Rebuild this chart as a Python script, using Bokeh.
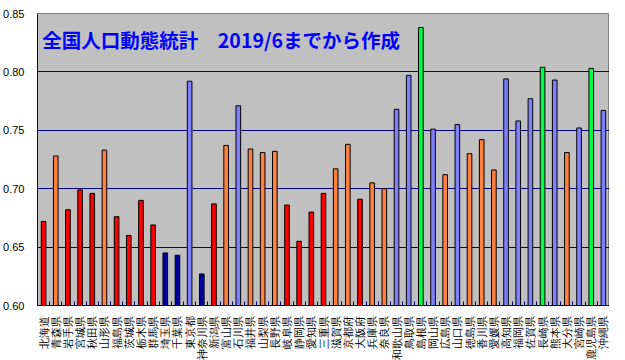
import math
from bokeh.plotting import figure
from bokeh.layouts import column
from bokeh.models import FixedTicker, ColumnDataSource, Label, Range1d
from bokeh.embed import file_html
from bokeh.resources import INLINE

prefs = ["北海道", "青森県", "岩手県", "宮城県", "秋田県", "山形県", "福島県", "茨城県", "栃木県", "群馬県",
         "埼玉県", "千葉県", "東京都", "神奈川県", "新潟県", "富山県", "石川県", "福井県", "山梨県", "長野県",
         "岐阜県", "静岡県", "愛知県", "三重県", "滋賀県", "京都府", "大阪府", "兵庫県", "奈良県", "和歌山県",
         "鳥取県", "島根県", "岡山県", "広島県", "山口県", "徳島県", "香川県", "愛媛県", "高知県", "福岡県",
         "佐賀県", "長崎県", "熊本県", "大分県", "宮崎県", "鹿児島県", "沖縄県"]
values = [0.672, 0.728, 0.682, 0.699, 0.696, 0.733, 0.676, 0.660, 0.690, 0.669,
          0.645, 0.643, 0.792, 0.627, 0.687, 0.737, 0.771, 0.734, 0.731, 0.732,
          0.686, 0.655, 0.680, 0.696, 0.717, 0.738, 0.691, 0.705, 0.700, 0.768,
          0.797, 0.838, 0.751, 0.712, 0.755, 0.730, 0.742, 0.716, 0.794, 0.758,
          0.777, 0.804, 0.793, 0.731, 0.752, 0.803, 0.767]
groups = ["r", "o", "r", "r", "r", "o", "r", "r", "r", "r",
          "d", "d", "b", "d", "r", "o", "b", "o", "o", "o",
          "r", "r", "r", "r", "o", "o", "r", "o", "o", "b",
          "b", "g", "b", "o", "b", "o", "o", "o", "b", "b",
          "b", "g", "b", "o", "b", "g", "b"]
y_ticks = [0.60, 0.65, 0.70, 0.75, 0.80, 0.85]
title_text = "全国人口動態統計　2019/6までから作成"

palette = {"r": "#FF0000", "o": "#FF8040", "b": "#8080FF", "d": "#0000A0", "g": "#00FF40"}

n = len(prefs)
src = ColumnDataSource(dict(x=list(range(n)), top=values,
                            color=[palette[g] for g in groups]))
xr = Range1d(-0.5, n - 0.5)

p = figure(width=609, height=312, output_backend="svg", toolbar_location=None,
           x_range=xr, y_range=(0.60, 0.85),
           y_axis_location="left", min_border_left=29, min_border_top=13,
           min_border_right=0, min_border_bottom=7)
p.background_fill_color = "#C0C0C0"
p.border_fill_color = "white"
p.outline_line_color = "#808080"
p.outline_line_width = 1

p.vbar(x="x", top="top", bottom=0.60, width=0.38, source=src,
       fill_color="color", line_color="black", line_width=1)

p.xgrid.visible = False
p.ygrid.grid_line_color = "#000080"
p.ygrid.grid_line_width = 1
p.ygrid.ticker = FixedTicker(ticks=y_ticks)

yax = p.yaxis[0]
yax.ticker = FixedTicker(ticks=y_ticks)
yax.major_label_overrides = {t: f"{t:.2f}" for t in y_ticks}
yax.major_tick_line_color = None
yax.minor_tick_line_color = None
yax.axis_line_color = "#000080"
yax.major_label_text_font = "Liberation Sans"
yax.major_label_text_font_size = "11px"
yax.major_label_text_color = "black"
yax.major_label_standoff = 7

xax = p.xaxis[0]
xax.ticker = FixedTicker(ticks=[], minor_ticks=[i + 0.5 for i in range(-1, n)])
xax.major_label_standoff = 0
xax.major_tick_line_color = None
xax.major_tick_out = 0
xax.minor_tick_line_color = "#000080"
xax.minor_tick_in = 4
xax.minor_tick_out = 0
xax.axis_line_color = "#000080"

p.add_layout(Label(x=-0.1, y=0.828, text=title_text, text_color="#0000FF",
                   text_font="Noto Sans CJK JP", text_font_style="bold",
                   text_font_size="19.5px", text_baseline="middle"))

# label strip below the chart (rotated category labels)
p2 = figure(width=609, height=48, output_backend="svg", toolbar_location=None,
            x_range=xr, y_range=(0, 1), min_border_left=29, min_border_right=0,
            min_border_top=0, min_border_bottom=0)
p2.axis.visible = False
p2.grid.visible = False
p2.outline_line_color = None
p2.background_fill_color = "white"
p2.text(x=list(range(n)), y=[1] * n, text=prefs, angle=math.pi / 2,
        text_align="right", text_baseline="middle", y_offset=3,
        text_font="Noto Sans CJK JP", text_font_size="11px",
        text_color="black")

layout = column(p, p2, spacing=0)
open("out.html", "w").write(file_html(layout, INLINE))
